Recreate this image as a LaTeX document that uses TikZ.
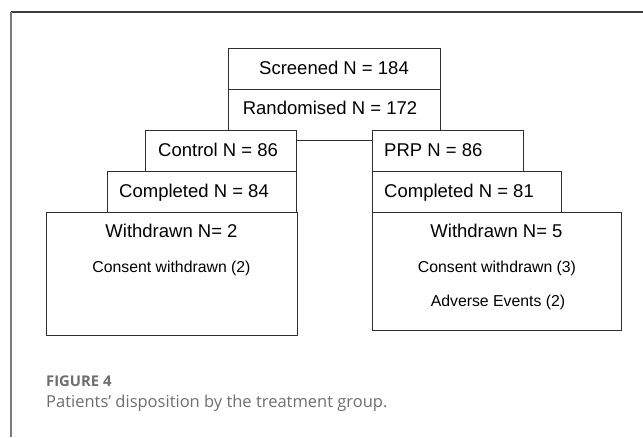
\documentclass[tikz,border=0pt]{standalone}
\usepackage{fontspec}
\setmainfont{Liberation Sans}
\newfontfamily\capfont{Open Sans}
\definecolor{boxline}{HTML}{2E2E2E}
\definecolor{framedark}{HTML}{3C3C3C}
\definecolor{framegray}{HTML}{7A7A7A}
\definecolor{captxt}{HTML}{6E6E6E}
\tikzset{
  flowbox/.style={draw=boxline, line width=1.15pt, fill=white, rectangle, inner sep=0pt, anchor=north west},
  bigtxt/.style={inner sep=0pt, font=\fontsize{18.5}{20}\selectfont},
  smalltxt/.style={inner sep=0pt, font=\fontsize{15.8}{18}\selectfont},
}
\begin{document}
\begin{tikzpicture}[x=1pt,y=-1pt]
\useasboundingbox (0,0) rectangle (643,437);
% frame
\draw[framedark, line width=1.2pt] (11,12) -- (643,12);
\draw[framegray, line width=1.2pt] (11,12) -- (11,437);
% boxes
\node[flowbox, minimum width=212pt, minimum height=41pt] (scr) at (228,48) {};
\node[flowbox, minimum width=212pt, minimum height=51pt] (rnd) at (228,89) {};
\node[flowbox, minimum width=151pt, minimum height=41pt] (ctl) at (145,130) {};
\node[flowbox, minimum width=151pt, minimum height=41pt] (prp) at (372,130) {};
\node[flowbox, minimum width=189pt, minimum height=41pt] (cmpl) at (107,171) {};
\node[flowbox, minimum width=189pt, minimum height=41pt] (cmpr) at (372,171) {};
\node[flowbox, minimum width=251pt, minimum height=123pt] (wdl) at (46,212) {};
\node[flowbox, minimum width=249pt, minimum height=118pt] (wdr) at (372,212) {};
% texts
\node[bigtxt, anchor=base] (tscr) at (334,74.5) {Screened N = 184};
\node[bigtxt, anchor=base] (trnd) at (330,114.5) {Randomised N = 172};
\node[bigtxt, anchor=base west] (tctl) at (158,156) {Control N = 86};
\node[bigtxt, anchor=base west] (tprp) at (384,156) {PRP N = 86};
\node[bigtxt, anchor=base west] (tcmpl) at (119,197) {Completed N = 84};
\node[bigtxt, anchor=base west] (tcmpr) at (384,197) {Completed N = 81};
\node[bigtxt, anchor=base] (twdl) at (171.5,237) {Withdrawn N= 2};
\node[bigtxt, anchor=base] (twdr) at (496.5,237) {Withdrawn N= 5};
\node[smalltxt, anchor=base] (tcl) at (171.5,272) {Consent withdrawn (2)};
\node[smalltxt, anchor=base] (tcr) at (497,272) {Consent withdrawn (3)};
\node[smalltxt, anchor=base] (tae) at (498,306) {Adverse Events (2)};
% caption
\node[inner sep=0pt, anchor=base west, text=captxt, font=\capfont\bfseries\fontsize{14.8}{16}\selectfont] (fig) at (46,386) {FIGURE 4};
\node[inner sep=0pt, anchor=base west, text=captxt, font=\capfont\fontsize{16.5}{18}\selectfont] (cap) at (46,407.5) {Patients’ disposition by the treatment group.};
\end{tikzpicture}
\end{document}
